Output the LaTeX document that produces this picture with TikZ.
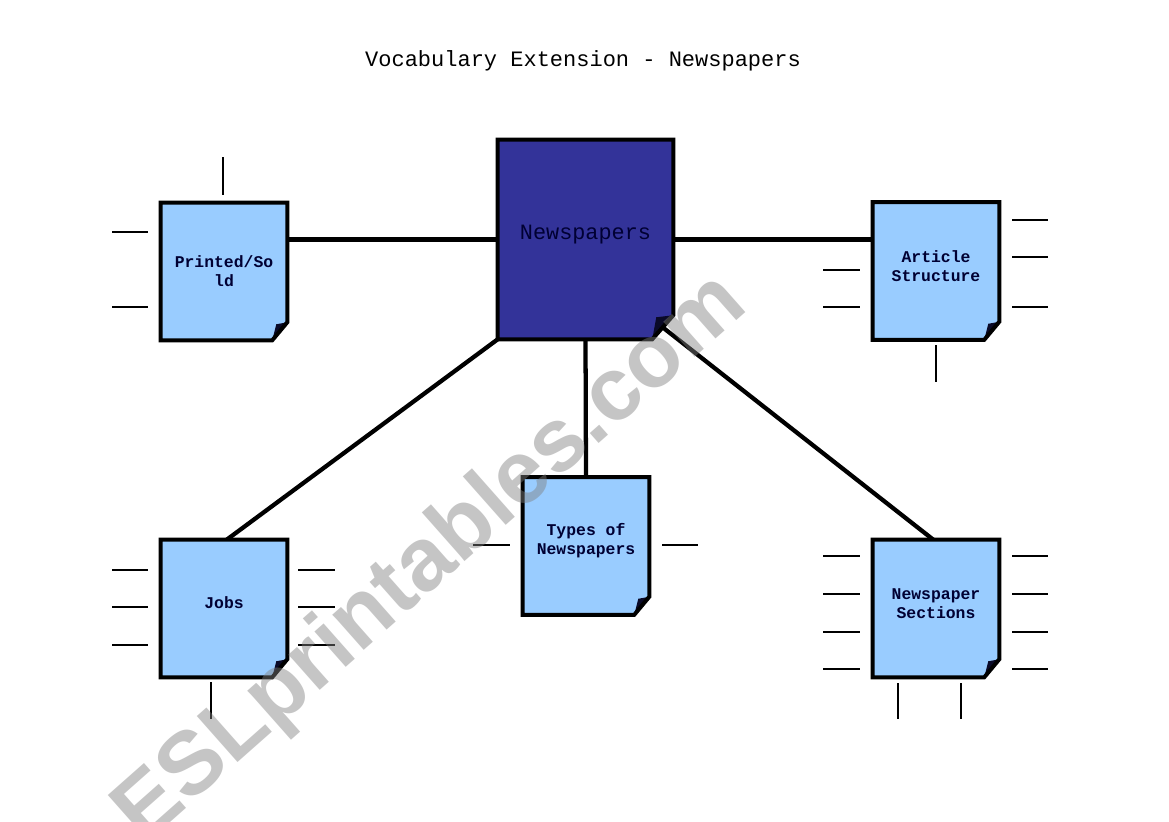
\documentclass[tikz,border=0pt]{standalone}
\usepackage{fontspec}
\setmainfont{Liberation Mono}
\newfontfamily\wmfont{Liberation Sans}
\definecolor{navy}{HTML}{333399}
\definecolor{paleblue}{HTML}{99CCFF}
\definecolor{inkblue}{HTML}{000033}
\definecolor{folddark}{HTML}{0A0A28}
\newcommand\docpage[4]{% name, fill, cut x (pt), cut y (pt)
  \fill[#2] (#1.north west) -- (#1.north east) -- ([yshift=#4]#1.south east)
    -- ([xshift=-#3]#1.south east) -- (#1.south west) -- cycle;
  \fill[folddark] ([xshift=-#3]#1.south east) -- ([xshift=-#3+3pt,yshift=#4-1.5pt]#1.south east)
    -- ([yshift=#4]#1.south east) -- cycle;
  \draw[border] (#1.north west) -- (#1.north east) -- ([yshift=#4]#1.south east)
    -- ([xshift=-#3]#1.south east) -- (#1.south west) -- cycle;
}
\begin{document}
\begin{tikzpicture}[x=0.75pt,y=-0.75pt,
  docbox/.style={minimum width=126*0.75pt, minimum height=137*0.75pt, inner sep=0pt, draw=none},
  bigbox/.style={minimum width=175*0.75pt, minimum height=199*0.75pt, inner sep=0pt, draw=none},
  boxtext/.style={font=\bfseries\fontsize{12.3}{14.3}\selectfont, text=inkblue, align=center, inner sep=0pt},
  link/.style={line width=3.2pt},
  blank/.style={line width=1.5pt},
  border/.style={line width=3pt, line join=miter}
]
\useasboundingbox[fill=white] (0,0) rectangle (1169,821);

% title
\node[font=\fontsize{16.5}{20}\selectfont, text=black] (title) at (583,61) {Vocabulary Extension - Newspapers};

% boxes (geometry)
\node[bigbox] (cn) at (585.5,239.5) {};
\node[docbox] (pr) at (224,271.5) {};
\node[docbox] (ar) at (936,271) {};
\node[docbox] (ty) at (586,546) {};
\node[docbox] (jb) at (224,608.5) {};
\node[docbox] (ns) at (936,608.5) {};

% connectors
\coordinate (cnfold) at ([xshift=-8pt,yshift=9pt]cn.south east);
\draw[link] (cn.west) -- (cn.west -| pr.east);
\draw[link] (cn.east) -- (cn.east -| ar.west);
\draw[link] (cn.south) -- (ty.north);
\draw[link] (cn.south west) -- ([xshift=2pt]jb.north);
\draw[link] (cnfold) -- ([xshift=-2pt]ns.north);

% shapes
\docpage{cn}{navy}{15.75pt}{18pt}
\docpage{pr}{paleblue}{11.25pt}{13.5pt}
\docpage{ar}{paleblue}{11.25pt}{13.5pt}
\docpage{ty}{paleblue}{11.25pt}{13.5pt}
\docpage{jb}{paleblue}{11.25pt}{13.5pt}
\docpage{ns}{paleblue}{11.25pt}{13.5pt}

% texts
\node[font=\fontsize{16.4}{20}\selectfont, text=inkblue, inner sep=0pt] (cnt) at (585.5,235) {Newspapers};
\node[boxtext] (prt) at (224,271.5) {Printed/So\\ld};
\node[boxtext] (art) at (936,266.5) {Article\\Structure};
\node[boxtext] (tyt) at (586,541) {Types of\\Newspapers};
\node[boxtext] (jbt) at (224,603) {Jobs};
\node[boxtext] (nst) at (936,603.5) {Newspaper\\Sections};

% blank answer lines
\draw[blank] (223,157) -- (223,195);
\draw[blank] (112,232) -- (148,232);
\draw[blank] (112,307) -- (148,307);

\draw[blank] (1012,220) -- (1048,220);
\draw[blank] (1012,257) -- (1048,257);
\draw[blank] (1012,307) -- (1048,307);
\draw[blank] (823,270) -- (860,270);
\draw[blank] (823,307) -- (860,307);
\draw[blank] (936,345) -- (936,382);

\draw[blank] (473,545) -- (510,545);
\draw[blank] (662,545) -- (698,545);

\foreach \yy in {570,607,645}{
  \draw[blank] (112,\yy) -- (148,\yy);
  \draw[blank] (298,\yy) -- (335,\yy);
}
\draw[blank] (211,682) -- (211,719);

\foreach \yy in {556,594,632,669}{
  \draw[blank] (823,\yy) -- (860,\yy);
  \draw[blank] (1012,\yy) -- (1048,\yy);
}
\draw[blank] (898,683) -- (898,719);
\draw[blank] (961,683) -- (961,719);

% watermark
\node[font=\wmfont\bfseries\fontsize{67}{74}\selectfont, text=black!50, opacity=0.45, rotate=41.5, inner sep=0pt] (wm) at (432,560) {ESLprintables.com};
\end{tikzpicture}
\end{document}
